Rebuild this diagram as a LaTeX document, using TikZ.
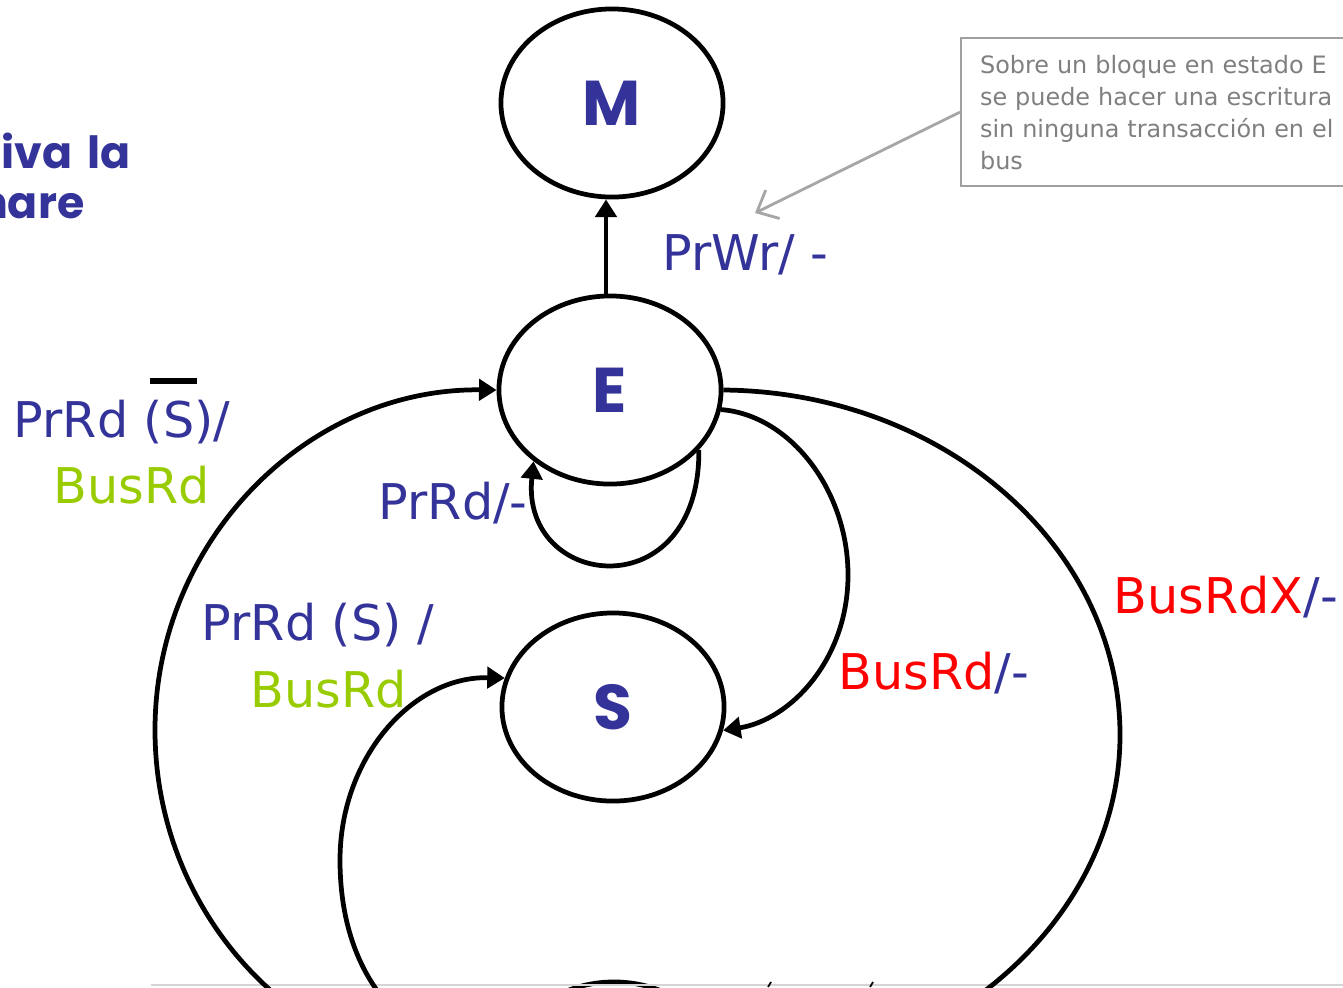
\documentclass[tikz,border=0pt]{standalone}
\usepackage{fontspec}
\setmainfont{DejaVu Sans}
\newfontfamily\headfont{Poppins}[WordSpace=1.6]
\usetikzlibrary{arrows.meta,shapes.geometric}
\definecolor{stateblue}{HTML}{333399}
\definecolor{busgreen}{HTML}{99CC00}
\definecolor{busred}{HTML}{FF0000}
\definecolor{noteframe}{HTML}{A0A0A0}
\definecolor{notetext}{HTML}{7F7F7F}
\definecolor{notearrow}{HTML}{A6A6A6}
\definecolor{rulegray}{HTML}{D4D4D4}
\begin{document}
\begin{tikzpicture}[x=0.01cm,y=-0.01cm,
  state/.style={ellipse, draw, line width=1.35pt, minimum width=2.22cm,
    minimum height=1.88cm, inner sep=0pt, text=stateblue,
    font=\headfont\bfseries\fontsize{18pt}{18pt}\selectfont},
  trans/.style={line width=1.35pt, -{Triangle[length=5pt,width=6pt]}},
  lbl/.style={inner sep=0pt, anchor=base west, text=stateblue,
    font=\fontsize{14pt}{17pt}\selectfont},
  headline/.style={inner sep=0pt, anchor=base east, text=stateblue,
    font=\headfont\bfseries\fontsize{12.6pt}{16pt}\selectfont},
  note/.style={draw=noteframe, line width=0.6pt, text=notetext, align=left,
    text width=3.7cm, inner xsep=0.19cm, inner ysep=0.12cm,
    minimum height=1.48cm, font=\fontsize{6.8pt}{9.1pt}\selectfont},
  notepointer/.style={draw=notearrow, line width=0.8pt,
    -{Straight Barb[length=5pt,width=9pt]}}]
\useasboundingbox (0,0) rectangle (1343,987);
\clip (0,0) rectangle (1343,987);

% heading fragments
\node[headline] (h1) at (131,168) {tiva la};
\node[headline] (h2) at (85,218) {hare};

% states
\node[state] (M) at (612,103) {M};
\node[state] (E) at (610,390) {E};
\node[state] (S) at (613,707) {S};
\node[state] (I) at (614,1076) {};

% bottom rule
\draw[rulegray, line width=0.6pt] (151,985) -- (1343,985);

% transitions
\draw[trans] ([xshift=-0.04cm]E.north) -- ([xshift=-0.04cm]E.north |- M.south);
\draw[trans] (E.-34.6) .. controls (700,610) and (520,590) .. (E.-137.4);
\draw[trans] (E.-10) .. controls (790,415) and (848,490) .. (848,575)
  .. controls (848,660) and (790,720) .. (S.-12);
\draw[trans] (E.east) .. controls (943,392) and (1120,546) .. (1120,735)
  .. controls (1120,920) and (944,1070) .. (I.east);
\draw[trans] (I.west) .. controls (310,1080) and (155,923) .. (155,730)
  .. controls (155,541) and (307,388) .. (E.west);
\draw[trans] (I.170) .. controls (420,1056) and (340,990) .. (340,860)
  .. controls (340,758) and (412,676) .. (S.165);

% labels
\node[lbl] (lwr) at (662,270) {PrWr/ -};
\node[lbl] (lrd1) at (13,437) {PrRd (S)/};
\draw[line width=1.7pt] (150,381) -- (197,381);
\node[lbl, text=busgreen] (lbus1) at (53,503) {BusRd};
\node[lbl] (lrd2) at (378,519) {PrRd/-};
\node[lbl] (lrd3) at (201,640) {PrRd (S) /};
\node[lbl, text=busgreen] (lbus2) at (250,707) {BusRd};
\node[lbl] (lbus3) at (838,689) {\textcolor{busred}{BusRd}/-};
\node[lbl] (lbusx) at (1113,613) {\textcolor{busred}{BusRdX}/-};

% tops of the labels further down
\draw[line width=0.5pt] (768,987) -- (771,982);
\draw[line width=0.5pt] (870,987) -- (873,982);

% callout
\node[note, anchor=north west] (note) at (960,37)
  {Sobre un bloque en estado E\\se puede hacer una escritura\\sin ninguna transacción en el\\bus};
\coordinate (ptr) at (755,213);
\draw[notepointer] (note.west) -- (ptr);
\end{tikzpicture}
\end{document}
